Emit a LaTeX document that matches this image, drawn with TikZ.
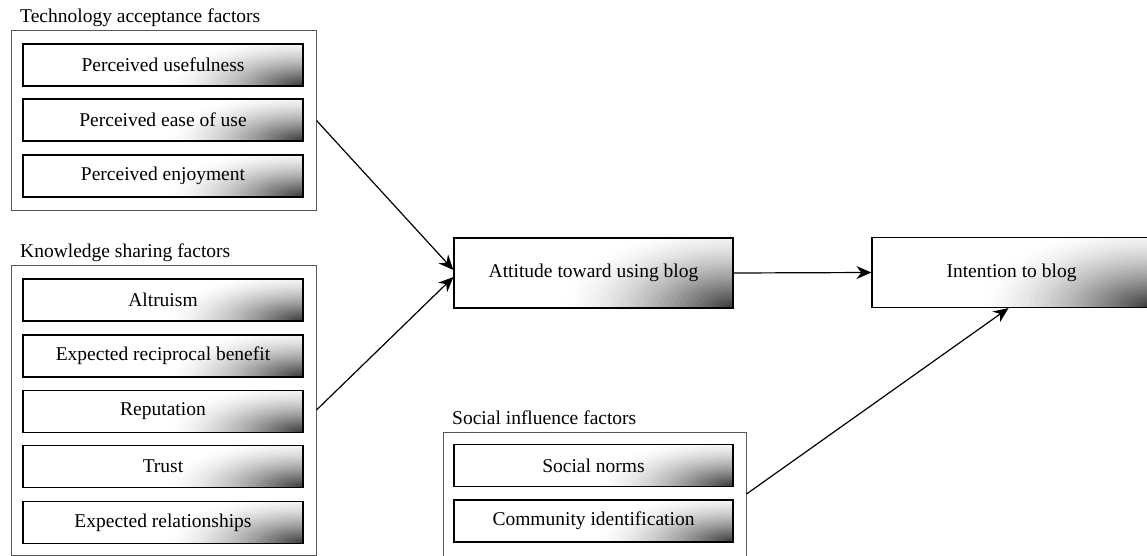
\documentclass[tikz,border=0pt]{standalone}
\usepackage{fontspec}
\setmainfont{Liberation Serif}
\usetikzlibrary{arrows.meta}

\tikzset{
  every node/.style={font=\fontsize{19.5}{22}\selectfont, text=black},
  % dark glow fading out from the lower right corner: nested ellipses,
  % each one a little darker than the one around it
  glow/.style 2 args={path picture={
      \foreach \r in {1.00,0.97,...,0.02}{
        \pgfmathsetmacro\k{80*(1-\r)^1.6}
        \fill[black!\k] (path picture bounding box.south east)
          ellipse [x radius=\r*#1, y radius=\r*#2];
      }}},
  factor/.style={draw=black, line width=1.2pt, fill=white, inner sep=0pt,
    minimum width=280pt, minimum height=42pt, glow={140pt}{50pt}},
  bigbox/.style={draw=black, line width=1.2pt, fill=white, inner sep=0pt,
    minimum width=279pt, minimum height=70pt, glow={175pt}{85pt}},
  group/.style={draw=black!65, line width=1pt, inner sep=0pt},
  grouptitle/.style={anchor=base west, inner sep=0pt},
  link/.style={draw=black, line width=1.2pt, -{Stealth[length=15pt,width=13pt]}}
}

\begin{document}
\begin{tikzpicture}[x=1pt, y=-1pt]
\useasboundingbox (0,0) rectangle (1147,556);
\clip (0,0) rectangle (1147,556);
\fill[white] (0,0) rectangle (1147,556);

% technology acceptance factors
\node[grouptitle] (tatitle) at (20,23) {Technology acceptance factors};
\node[group, minimum width=305pt, minimum height=179pt] (ta) at (163.5,120.5) {};
\node[factor] (pu)  at (163,65)  {Perceived usefulness};
\node[factor] (peu) at (163,120) {Perceived ease of use};
\node[factor] (pe)  at (163,176) {Perceived enjoyment};

% knowledge sharing factors
\node[grouptitle] (kstitle) at (20,257) {Knowledge sharing factors};
\node[group, minimum width=305pt, minimum height=290pt] (ks) at (163.5,410) {};
\node[factor] (alt) at (163,300)   {Altruism};
\node[factor] (erb) at (163,356)   {Expected reciprocal benefit};
\node[factor] (rep) at (163,411.5) {Reputation};
\node[factor] (tru) at (163,466.5) {Trust};
\node[factor] (erl) at (163,522.5) {Expected relationships};

% social influence factors
\node[grouptitle] (sititle) at (452,424) {Social influence factors};
\node[group, minimum width=303pt, minimum height=124pt] (si) at (594.5,494) {};
\node[factor, minimum width=279pt] (sn) at (593.5,465.5) {Social norms};
\node[factor, minimum width=279pt] (ci) at (593.5,521)   {Community identification};

% outcomes
\node[bigbox] (att) at (593.5,273) {Attitude toward using blog};
\node[bigbox] (int) at (1011.5,272.5) {Intention to blog};

% paths
\draw[link] (ta.east) -- ([yshift=3pt]att.west);
\draw[link] (ks.east) -- ([yshift=-4pt]att.west);
\draw[link] (att.east) -- (int.west);
\draw[link] (si.east) -- ([xshift=-3pt]int.south);
\end{tikzpicture}
\end{document}
